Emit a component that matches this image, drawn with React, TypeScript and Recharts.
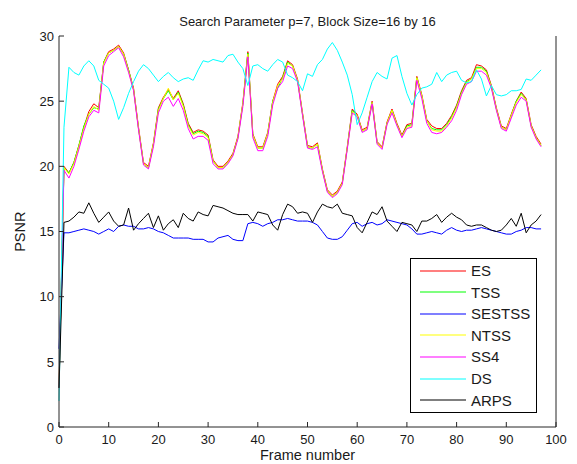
import React from 'react';
import { LineChart, Line, XAxis, YAxis, Legend } from 'recharts';

const FONT = "'Liberation Sans', Arial, sans-serif";
const AXIS = '#262626';

const title = 'Search Parameter p=7, Block Size=16 by 16';
const xLabel = 'Frame number';
const yLabel = 'PSNR';
const xTicks = [0, 10, 20, 30, 40, 50, 60, 70, 80, 90, 100];
const yTicks = [0, 5, 10, 15, 20, 25, 30];

const ES = [3.0, 20.0, 19.5, 20.3, 21.6, 23.0, 24.2, 24.8, 24.5, 28.0, 28.8, 29.0, 29.3, 28.7, 27.4, 26.0, 23.0, 20.3, 20.0, 21.8, 24.5, 25.3, 25.9, 25.2, 25.8, 24.8, 23.3, 22.6, 22.8, 22.7, 22.4, 20.5, 20.0, 20.0, 20.4, 21.0, 22.3, 24.9, 28.8, 22.5, 21.5, 21.5, 22.6, 25.0, 26.3, 26.9, 28.1, 27.8, 26.7, 24.1, 21.6, 21.5, 21.8, 19.8, 18.2, 17.8, 18.1, 18.8, 21.5, 24.4, 24.0, 22.8, 23.0, 25.0, 21.9, 21.5, 23.4, 24.4, 23.3, 22.4, 23.2, 23.3, 26.9, 25.5, 23.6, 23.1, 22.9, 22.9, 23.3, 23.9, 24.7, 25.8, 26.6, 26.8, 27.8, 27.7, 27.4, 26.2, 24.5, 23.1, 22.9, 24.0, 25.0, 25.7, 25.2, 23.2, 22.3, 21.7];
const TSS = [3.0, 19.9, 19.5, 20.3, 21.6, 23.1, 24.0, 24.5, 24.4, 28.0, 28.7, 28.9, 29.2, 28.6, 27.4, 25.9, 22.9, 20.2, 19.9, 21.7, 24.4, 25.2, 25.8, 25.1, 25.7, 24.7, 23.2, 22.5, 22.7, 22.6, 22.3, 20.4, 19.9, 19.9, 20.3, 20.9, 22.2, 24.8, 28.7, 22.4, 21.4, 21.4, 22.5, 25.0, 26.0, 26.8, 28.0, 27.7, 26.6, 24.0, 21.5, 21.4, 21.7, 19.7, 18.1, 17.7, 18.0, 18.7, 21.4, 24.3, 23.9, 22.7, 22.9, 24.9, 21.8, 21.4, 23.3, 24.3, 23.2, 22.3, 23.1, 23.2, 26.8, 25.4, 23.5, 22.9, 22.8, 22.8, 23.2, 23.8, 24.6, 25.7, 26.5, 26.7, 27.6, 27.6, 27.3, 26.1, 24.4, 23.0, 22.8, 23.9, 25.0, 25.6, 25.1, 23.1, 22.2, 21.6];
const SESTSS = [6.0, 14.9, 14.9, 15.0, 15.1, 15.2, 15.1, 15.0, 14.8, 15.0, 15.2, 15.0, 15.4, 15.5, 15.4, 15.4, 15.2, 15.2, 15.3, 15.2, 15.0, 14.9, 14.7, 14.5, 14.5, 14.5, 14.5, 14.4, 14.4, 14.4, 14.2, 14.2, 14.5, 14.6, 14.7, 14.4, 14.3, 14.3, 15.6, 15.7, 15.6, 15.4, 15.6, 15.7, 15.9, 15.9, 16.0, 15.9, 15.8, 15.8, 15.8, 15.7, 15.5, 15.0, 14.5, 14.4, 14.4, 14.6, 15.1, 15.6, 15.7, 15.4, 15.6, 15.7, 15.5, 15.6, 15.9, 15.8, 15.7, 15.6, 15.5, 15.2, 14.8, 14.8, 14.9, 15.0, 14.9, 14.8, 15.1, 15.3, 15.1, 15.0, 15.1, 15.1, 15.2, 15.3, 15.2, 15.1, 15.0, 14.9, 14.8, 14.8, 15.0, 15.1, 15.3, 15.3, 15.2, 15.2];
const NTSS = [3.0, 19.9, 19.4, 20.2, 21.5, 22.9, 24.0, 24.6, 24.3, 27.9, 28.7, 28.9, 29.2, 28.6, 27.3, 25.9, 22.9, 20.2, 19.9, 21.7, 24.3, 25.2, 26.0, 25.1, 25.6, 24.6, 23.1, 22.4, 22.6, 22.5, 22.2, 20.4, 19.9, 19.9, 20.3, 20.9, 22.2, 24.8, 28.6, 22.4, 21.4, 21.4, 22.5, 24.9, 26.2, 26.7, 27.9, 27.7, 26.6, 24.0, 21.5, 21.4, 21.7, 19.7, 18.1, 17.7, 18.0, 18.7, 21.4, 24.2, 23.9, 22.7, 22.9, 24.9, 21.8, 21.4, 23.3, 24.3, 23.2, 22.3, 23.0, 23.1, 26.8, 25.4, 23.5, 22.8, 22.7, 22.7, 23.1, 23.7, 24.5, 25.6, 26.4, 26.7, 27.5, 27.5, 27.2, 26.1, 24.4, 23.0, 22.8, 23.9, 24.9, 25.5, 25.1, 23.1, 22.2, 21.6];
const SS4 = [3.0, 19.7, 19.1, 20.0, 21.3, 22.7, 23.8, 24.3, 24.1, 27.7, 28.5, 28.8, 29.1, 28.4, 27.2, 25.8, 22.8, 20.1, 19.8, 21.5, 24.1, 25.0, 25.3, 24.6, 25.2, 24.3, 22.9, 22.1, 22.3, 22.3, 22.0, 20.2, 19.8, 19.8, 20.2, 20.8, 22.1, 24.6, 28.4, 22.2, 21.2, 21.2, 22.3, 24.7, 26.0, 26.5, 27.7, 27.5, 26.5, 23.9, 21.4, 21.3, 21.5, 19.6, 18.0, 17.6, 17.9, 18.6, 21.3, 24.1, 23.8, 22.6, 22.8, 24.8, 21.7, 21.3, 23.2, 24.1, 23.1, 22.2, 22.9, 23.0, 26.6, 25.2, 23.3, 22.6, 22.5, 22.6, 23.0, 23.5, 24.3, 25.5, 26.3, 26.5, 27.3, 27.3, 27.0, 26.0, 24.3, 22.9, 22.7, 23.7, 24.7, 25.3, 25.0, 23.0, 22.1, 21.5];
const DS = [2.0, 23.0, 27.6, 27.2, 27.0, 27.7, 28.1, 27.7, 26.6, 26.3, 26.0, 25.0, 23.6, 24.5, 25.6, 26.5, 27.3, 27.8, 27.5, 27.0, 26.5, 26.9, 27.2, 26.8, 26.5, 26.7, 26.8, 26.6, 27.4, 28.1, 28.0, 28.2, 28.1, 28.0, 28.5, 28.6, 28.0, 27.5, 26.2, 27.7, 27.8, 27.5, 27.3, 27.8, 28.2, 28.0, 27.0, 26.8, 26.5, 25.8, 27.1, 26.9, 27.8, 28.2, 29.0, 29.5, 28.9, 28.0, 27.0, 25.5, 23.2, 24.1, 25.3, 26.5, 27.2, 26.9, 26.7, 28.3, 28.5, 26.9, 25.6, 24.7, 25.5, 26.0, 26.1, 26.3, 27.2, 26.5, 27.0, 27.2, 27.3, 26.6, 26.4, 26.5, 27.4, 26.7, 25.4, 26.2, 25.5, 25.4, 25.5, 25.8, 25.8, 25.9, 26.7, 26.6, 27.0, 27.4];
const ARPS = [3.0, 15.7, 15.8, 16.1, 16.5, 16.4, 17.2, 16.4, 15.7, 16.1, 16.5, 15.8, 15.4, 15.5, 16.8, 15.1, 15.6, 16.0, 16.4, 15.3, 16.2, 15.1, 15.6, 15.9, 15.3, 16.4, 16.0, 15.8, 16.5, 16.3, 16.2, 17.0, 16.9, 16.8, 16.6, 16.4, 16.3, 16.3, 16.3, 15.8, 16.5, 16.4, 16.3, 15.5, 15.1, 16.3, 17.1, 16.9, 16.4, 16.5, 16.4, 15.7, 16.5, 17.1, 16.9, 16.8, 17.1, 16.4, 16.3, 16.2, 15.3, 14.9, 15.7, 16.5, 16.3, 16.9, 15.8, 15.4, 15.0, 15.7, 15.6, 15.5, 15.0, 15.8, 15.8, 16.0, 16.3, 15.7, 16.1, 16.4, 16.1, 15.9, 15.5, 15.4, 15.5, 15.5, 15.3, 15.1, 15.0, 15.1, 15.5, 16.0, 15.4, 16.4, 14.9, 15.5, 15.8, 16.3];

const series = [
  { key: 'ES', values: ES, color: '#ff0000' },
  { key: 'TSS', values: TSS, color: '#00ff00' },
  { key: 'SESTSS', values: SESTSS, color: '#0000ff' },
  { key: 'NTSS', values: NTSS, color: '#ffff00' },
  { key: 'SS4', values: SS4, color: '#ff00ff' },
  { key: 'DS', values: DS, color: '#00ffff' },
  { key: 'ARPS', values: ARPS, color: '#000000' },
];

const data = ES.map((_, i) => {
  const row: Record<string, number> = { frame: i };
  series.forEach((s) => {
    row[s.key] = s.values[i];
  });
  return row;
});

const BottomTick = (props: any) => {
  const { x, y, payload } = props;
  return (
    <g>
      <line x1={x} x2={x} y1={y} y2={y - 5} stroke={AXIS} strokeWidth={1} />
      <text x={x} y={y + 17} textAnchor="middle" fontSize={13} fontFamily={FONT} fill="#1a1a1a">
        {payload.value}
      </text>
    </g>
  );
};

const TopTick = (props: any) => {
  const { x, y } = props;
  return <line x1={x} x2={x} y1={y} y2={y + 5} stroke={AXIS} strokeWidth={1} />;
};

const LeftTick = (props: any) => {
  const { x, y, payload } = props;
  return (
    <g>
      <line x1={x} x2={x + 5} y1={y} y2={y} stroke={AXIS} strokeWidth={1} />
      <text x={x - 5} y={y} dy="0.36em" textAnchor="end" fontSize={13} fontFamily={FONT} fill="#1a1a1a">
        {payload.value}
      </text>
    </g>
  );
};

const RightTick = (props: any) => {
  const { x, y } = props;
  return <line x1={x} x2={x - 5} y1={y} y2={y} stroke={AXIS} strokeWidth={1} />;
};

const LegendBox = () => (
  <div
    style={{
      width: 125,
      height: 152,
      border: '1px solid #000',
      background: '#fff',
      boxSizing: 'content-box',
      paddingTop: 1,
    }}
  >
    {series.map((s) => (
      <div key={s.key} style={{ display: 'flex', alignItems: 'center', height: 21.55 }}>
        <svg width={56} height={10} style={{ flex: 'none' }}>
          <line x1={9} x2={55} y1={5} y2={5} stroke={s.color} strokeWidth={1.2} />
        </svg>
        <span style={{ fontFamily: FONT, fontSize: 15, color: '#1a1a1a', marginLeft: 4, lineHeight: '15px' }}>
          {s.key}
        </span>
      </div>
    ))}
  </div>
);

export default function App() {
  return (
    <div style={{ position: 'absolute', left: 0, top: 0, width: 577, height: 464, background: '#fff' }}>
      <LineChart width={577} height={464} data={data} margin={{ top: 36, right: 20, bottom: 6, left: 0 }}>
        <XAxis
          dataKey="frame"
          type="number"
          domain={[0, 100]}
          ticks={xTicks}
          interval={0}
          tickSize={0}
          tickMargin={0}
          tickLine={false}
          height={31}
          axisLine={{ stroke: AXIS }}
          tick={<BottomTick />}
          label={() => (
            <text x={307.5} y={460} textAnchor="middle" fontSize={14.5} fontFamily={FONT} fill="#1a1a1a">
              {xLabel}
            </text>
          )}
        />
        <XAxis
          xAxisId="t"
          orientation="top"
          dataKey="frame"
          type="number"
          domain={[0, 100]}
          ticks={xTicks}
          interval={0}
          tickSize={0}
          tickMargin={0}
          tickLine={false}
          height={0}
          axisLine={{ stroke: AXIS }}
          tick={<TopTick />}
        />
        <YAxis
          type="number"
          domain={[0, 30]}
          ticks={yTicks}
          interval={0}
          tickSize={0}
          tickMargin={0}
          tickLine={false}
          width={59}
          axisLine={{ stroke: AXIS }}
          tick={<LeftTick />}
          label={() => (
            <g>
              <text
                x={25.2}
                y={231.7}
                transform="rotate(-90 25.2 231.7)"
                textAnchor="middle"
                fontSize={14.5}
                fontFamily={FONT}
                fill="#1a1a1a"
              >
                {yLabel}
              </text>
              <text x={307.5} y={25.5} textAnchor="middle" fontSize={13} fontFamily={FONT} fill="#1a1a1a">
                {title}
              </text>
            </g>
          )}
        />
        <YAxis
          yAxisId="r"
          orientation="right"
          type="number"
          domain={[0, 30]}
          ticks={yTicks}
          interval={0}
          tickSize={0}
          tickMargin={0}
          tickLine={false}
          width={1}
          axisLine={{ stroke: AXIS }}
          tick={<RightTick />}
        />
        {series.map((s) => (
          <Line
            key={s.key}
            dataKey={s.key}
            type="linear"
            stroke={s.color}
            strokeWidth={1}
            dot={false}
            activeDot={false}
            isAnimationActive={false}
          />
        ))}
        <Legend
          layout="vertical"
          align="center"
          verticalAlign="middle"
          content={() => <LegendBox />}
          wrapperStyle={{ left: 410, top: 258, width: 127, height: 155 }}
        />
      </LineChart>
    </div>
  );
}
